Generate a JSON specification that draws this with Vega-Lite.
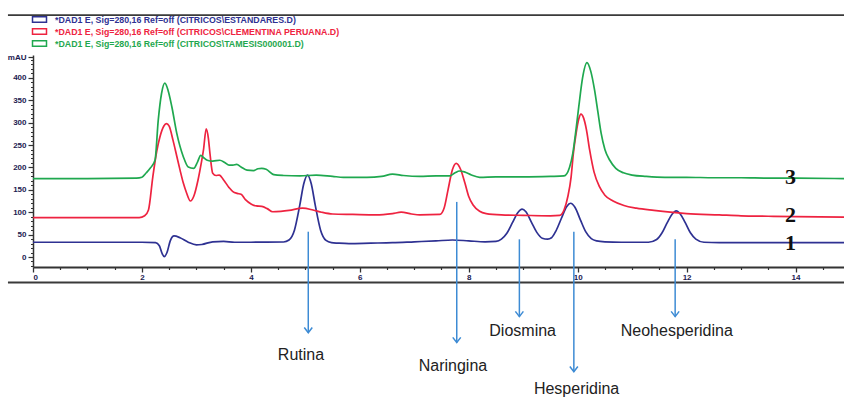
{
  "$schema": "https://vega.github.io/schema/vega-lite/v6.json",
  "width": 811,
  "height": 212,
  "autosize": "none",
  "padding": {"left": 33, "top": 55, "right": 0, "bottom": 131},
  "background": "white",
  "config": {"view": {"stroke": null}, "font": "Liberation Sans"},
  "datasets": {
    "chrom": [
      {"t":0,"v":33,"s":"1"},{"t":1,"v":33,"s":"1"},{"t":2,"v":33,"s":"1"},{"t":2.25,"v":32,"s":"1"},{"t":2.32,"v":25,"s":"1"},{"t":2.37,"v":8,"s":"1"},{"t":2.41,"v":1,"s":"1"},{"t":2.46,"v":10,"s":"1"},{"t":2.52,"v":36,"s":"1"},{"t":2.59,"v":47,"s":"1"},{"t":2.7,"v":43,"s":"1"},{"t":2.85,"v":33,"s":"1"},{"t":3.0,"v":27,"s":"1"},{"t":3.1,"v":28,"s":"1"},{"t":3.3,"v":34,"s":"1"},{"t":3.5,"v":35,"s":"1"},{"t":3.7,"v":33,"s":"1"},{"t":4.0,"v":33,"s":"1"},{"t":4.6,"v":33.5,"s":"1"},{"t":4.7,"v":38,"s":"1"},{"t":4.8,"v":60,"s":"1"},{"t":4.9,"v":117,"s":"1"},{"t":4.97,"v":163,"s":"1"},{"t":5.04,"v":183,"s":"1"},{"t":5.11,"v":163,"s":"1"},{"t":5.18,"v":117,"s":"1"},{"t":5.28,"v":60,"s":"1"},{"t":5.38,"v":37,"s":"1"},{"t":5.48,"v":32,"s":"1"},{"t":5.6,"v":31,"s":"1"},{"t":5.8,"v":30,"s":"1"},{"t":6.2,"v":31,"s":"1"},{"t":6.6,"v":32,"s":"1"},{"t":7.0,"v":34,"s":"1"},{"t":7.4,"v":36,"s":"1"},{"t":7.7,"v":38,"s":"1"},{"t":8.0,"v":36,"s":"1"},{"t":8.3,"v":34,"s":"1"},{"t":8.5,"v":35,"s":"1"},{"t":8.6,"v":40,"s":"1"},{"t":8.7,"v":53,"s":"1"},{"t":8.8,"v":76,"s":"1"},{"t":8.9,"v":99,"s":"1"},{"t":8.98,"v":107,"s":"1"},{"t":9.05,"v":101,"s":"1"},{"t":9.15,"v":78,"s":"1"},{"t":9.25,"v":55,"s":"1"},{"t":9.35,"v":42,"s":"1"},{"t":9.45,"v":40,"s":"1"},{"t":9.52,"v":43,"s":"1"},{"t":9.6,"v":58,"s":"1"},{"t":9.7,"v":86,"s":"1"},{"t":9.8,"v":113,"s":"1"},{"t":9.87,"v":120,"s":"1"},{"t":9.95,"v":111,"s":"1"},{"t":10.05,"v":83,"s":"1"},{"t":10.15,"v":56,"s":"1"},{"t":10.25,"v":41,"s":"1"},{"t":10.35,"v":36,"s":"1"},{"t":10.5,"v":34,"s":"1"},{"t":10.8,"v":33,"s":"1"},{"t":11.3,"v":33,"s":"1"},{"t":11.45,"v":39,"s":"1"},{"t":11.55,"v":54,"s":"1"},{"t":11.65,"v":78,"s":"1"},{"t":11.73,"v":95,"s":"1"},{"t":11.81,"v":103,"s":"1"},{"t":11.89,"v":95,"s":"1"},{"t":11.97,"v":78,"s":"1"},{"t":12.07,"v":54,"s":"1"},{"t":12.17,"v":40,"s":"1"},{"t":12.32,"v":33,"s":"1"},{"t":12.6,"v":32,"s":"1"},{"t":13.5,"v":32,"s":"1"},{"t":14.89,"v":32,"s":"1"},
      {"t":0,"v":88,"s":"2"},{"t":1,"v":88,"s":"2"},{"t":1.95,"v":88,"s":"2"},{"t":2.05,"v":92,"s":"2"},{"t":2.12,"v":105,"s":"2"},{"t":2.2,"v":179,"s":"2"},{"t":2.27,"v":235,"s":"2"},{"t":2.33,"v":268,"s":"2"},{"t":2.4,"v":292,"s":"2"},{"t":2.45,"v":298,"s":"2"},{"t":2.5,"v":292,"s":"2"},{"t":2.57,"v":261,"s":"2"},{"t":2.64,"v":225,"s":"2"},{"t":2.7,"v":194,"s":"2"},{"t":2.76,"v":165,"s":"2"},{"t":2.82,"v":143,"s":"2"},{"t":2.89,"v":125,"s":"2"},{"t":2.95,"v":135,"s":"2"},{"t":3.03,"v":172,"s":"2"},{"t":3.09,"v":210,"s":"2"},{"t":3.13,"v":239,"s":"2"},{"t":3.18,"v":286,"s":"2"},{"t":3.22,"v":265,"s":"2"},{"t":3.25,"v":230,"s":"2"},{"t":3.3,"v":187,"s":"2"},{"t":3.36,"v":182,"s":"2"},{"t":3.42,"v":183,"s":"2"},{"t":3.5,"v":172,"s":"2"},{"t":3.6,"v":155,"s":"2"},{"t":3.67,"v":146,"s":"2"},{"t":3.75,"v":142,"s":"2"},{"t":3.82,"v":140,"s":"2"},{"t":3.9,"v":128,"s":"2"},{"t":4.01,"v":118,"s":"2"},{"t":4.1,"v":114,"s":"2"},{"t":4.2,"v":113,"s":"2"},{"t":4.3,"v":108,"s":"2"},{"t":4.4,"v":101,"s":"2"},{"t":4.55,"v":102,"s":"2"},{"t":4.7,"v":104,"s":"2"},{"t":4.95,"v":109,"s":"2"},{"t":5.14,"v":105,"s":"2"},{"t":5.3,"v":100,"s":"2"},{"t":5.5,"v":96,"s":"2"},{"t":5.87,"v":95,"s":"2"},{"t":6.3,"v":94,"s":"2"},{"t":6.6,"v":97,"s":"2"},{"t":6.76,"v":100,"s":"2"},{"t":6.95,"v":96,"s":"2"},{"t":7.1,"v":94,"s":"2"},{"t":7.47,"v":95,"s":"2"},{"t":7.55,"v":110,"s":"2"},{"t":7.62,"v":150,"s":"2"},{"t":7.7,"v":195,"s":"2"},{"t":7.77,"v":209,"s":"2"},{"t":7.85,"v":196,"s":"2"},{"t":7.93,"v":165,"s":"2"},{"t":8.0,"v":135,"s":"2"},{"t":8.08,"v":116,"s":"2"},{"t":8.2,"v":102,"s":"2"},{"t":8.32,"v":97,"s":"2"},{"t":8.6,"v":94,"s":"2"},{"t":9.0,"v":93,"s":"2"},{"t":9.5,"v":92,"s":"2"},{"t":9.67,"v":93,"s":"2"},{"t":9.75,"v":105,"s":"2"},{"t":9.82,"v":135,"s":"2"},{"t":9.88,"v":179,"s":"2"},{"t":9.92,"v":230,"s":"2"},{"t":9.97,"v":275,"s":"2"},{"t":10.02,"v":308,"s":"2"},{"t":10.06,"v":319,"s":"2"},{"t":10.11,"v":310,"s":"2"},{"t":10.16,"v":285,"s":"2"},{"t":10.22,"v":239,"s":"2"},{"t":10.3,"v":190,"s":"2"},{"t":10.4,"v":157,"s":"2"},{"t":10.5,"v":138,"s":"2"},{"t":10.65,"v":125,"s":"2"},{"t":10.85,"v":115,"s":"2"},{"t":11.08,"v":109,"s":"2"},{"t":11.4,"v":104,"s":"2"},{"t":11.7,"v":100,"s":"2"},{"t":12.0,"v":97,"s":"2"},{"t":12.6,"v":94,"s":"2"},{"t":13.0,"v":92,"s":"2"},{"t":13.5,"v":91,"s":"2"},{"t":14.0,"v":90,"s":"2"},{"t":14.89,"v":89,"s":"2"},
      {"t":0,"v":175,"s":"3"},{"t":1,"v":175,"s":"3"},{"t":1.9,"v":176,"s":"3"},{"t":2.0,"v":178,"s":"3"},{"t":2.08,"v":188,"s":"3"},{"t":2.15,"v":198,"s":"3"},{"t":2.24,"v":216,"s":"3"},{"t":2.3,"v":306,"s":"3"},{"t":2.36,"v":365,"s":"3"},{"t":2.42,"v":388,"s":"3"},{"t":2.48,"v":372,"s":"3"},{"t":2.55,"v":335,"s":"3"},{"t":2.64,"v":276,"s":"3"},{"t":2.76,"v":224,"s":"3"},{"t":2.85,"v":201,"s":"3"},{"t":2.95,"v":198,"s":"3"},{"t":3.02,"v":212,"s":"3"},{"t":3.08,"v":227,"s":"3"},{"t":3.14,"v":221,"s":"3"},{"t":3.2,"v":216,"s":"3"},{"t":3.3,"v":214,"s":"3"},{"t":3.43,"v":216,"s":"3"},{"t":3.52,"v":211,"s":"3"},{"t":3.6,"v":205,"s":"3"},{"t":3.67,"v":205,"s":"3"},{"t":3.74,"v":207,"s":"3"},{"t":3.82,"v":201,"s":"3"},{"t":3.93,"v":194,"s":"3"},{"t":4.05,"v":193,"s":"3"},{"t":4.13,"v":197,"s":"3"},{"t":4.2,"v":198,"s":"3"},{"t":4.28,"v":196,"s":"3"},{"t":4.42,"v":184,"s":"3"},{"t":4.6,"v":182,"s":"3"},{"t":4.9,"v":181,"s":"3"},{"t":5.2,"v":183,"s":"3"},{"t":5.5,"v":180,"s":"3"},{"t":5.7,"v":178,"s":"3"},{"t":6.13,"v":178,"s":"3"},{"t":6.4,"v":180,"s":"3"},{"t":6.6,"v":185,"s":"3"},{"t":6.8,"v":182,"s":"3"},{"t":7.1,"v":180,"s":"3"},{"t":7.4,"v":181,"s":"3"},{"t":7.65,"v":181,"s":"3"},{"t":7.75,"v":188,"s":"3"},{"t":7.83,"v":192,"s":"3"},{"t":7.92,"v":190,"s":"3"},{"t":8.05,"v":183,"s":"3"},{"t":8.2,"v":178,"s":"3"},{"t":8.5,"v":179,"s":"3"},{"t":9.0,"v":179,"s":"3"},{"t":9.5,"v":180,"s":"3"},{"t":9.75,"v":181,"s":"3"},{"t":9.85,"v":200,"s":"3"},{"t":9.91,"v":231,"s":"3"},{"t":9.97,"v":285,"s":"3"},{"t":10.02,"v":335,"s":"3"},{"t":10.09,"v":400,"s":"3"},{"t":10.17,"v":434,"s":"3"},{"t":10.24,"v":415,"s":"3"},{"t":10.31,"v":373,"s":"3"},{"t":10.37,"v":325,"s":"3"},{"t":10.43,"v":277,"s":"3"},{"t":10.5,"v":240,"s":"3"},{"t":10.59,"v":216,"s":"3"},{"t":10.7,"v":198,"s":"3"},{"t":10.84,"v":188,"s":"3"},{"t":11.0,"v":183,"s":"3"},{"t":11.26,"v":180,"s":"3"},{"t":11.6,"v":178,"s":"3"},{"t":12.0,"v":178,"s":"3"},{"t":12.5,"v":177,"s":"3"},{"t":13.0,"v":177,"s":"3"},{"t":13.5,"v":176,"s":"3"},{"t":14.0,"v":176,"s":"3"},{"t":14.89,"v":175,"s":"3"}
    ],
    "arrows": [
      {"name":"Rutina","t":5.054,"top":56.5,"bottom":-169,"lt":4.92,"lv":-219},
      {"name":"Naringina","t":7.78,"top":123,"bottom":-191,"lt":7.71,"lv":-243},
      {"name":"Diosmina","t":8.93,"top":39.5,"bottom":-133,"lt":8.99,"lv":-165},
      {"name":"Hesperidina","t":9.93,"top":56.5,"bottom":-256,"lt":9.98,"lv":-294},
      {"name":"Neohesperidina","t":11.79,"top":39.5,"bottom":-133,"lt":11.82,"lv":-165}
    ],
    "nums": [
      {"n":"1","t":13.91,"v":32},
      {"n":"2","t":13.91,"v":94},
      {"n":"3","t":13.91,"v":179}
    ],
    "frame": [
      {"y":540.2,"w":2},
      {"y":-56.9,"w":1.5}
    ]
  },
  "resolve": {"axis": {"x": "independent", "y": "independent"}},
  "layer": [
    {
      "data": {"name": "frame"},
      "mark": {"type": "rule", "color": "#3a3a3a", "strokeWidth": 1.8},
      "encoding": {
        "y": {"field": "y", "type": "quantitative", "axis": null, "scale": {"domain": [-22.3, 451], "nice": false, "zero": false}},
        "x": {"datum": -0.46, "type": "quantitative", "axis": null, "scale": {"domain": [0, 14.89], "nice": false, "zero": false}},
        "x2": {"datum": 14.89}
      }
    },
    {
      "data": {"name": "chrom"},
      "mark": {"type": "point", "opacity": 0},
      "encoding": {
        "x": {"field": "t", "type": "quantitative",
          "axis": {"orient": "bottom", "values": [0.5,1,1.5,2.5,3,3.5,4.5,5,5.5,6.5,7,7.5,8.5,9,9.5,10.5,11,11.5,12.5,13,13.5,14.5], "labels": false, "domain": false, "grid": false, "tickSize": 2.5, "tickColor": "#333", "tickWidth": 1.2, "title": null}},
        "y": {"field": "v", "type": "quantitative",
          "axis": {"orient": "left", "values": [-20,-10,10,20,30,40,60,70,80,90,110,120,130,140,160,170,180,190,210,220,230,240,260,270,280,290,310,320,330,340,360,370,380,390,410,420,430,440], "labels": false, "domain": false, "grid": false, "tickSize": 2.5, "tickColor": "#333", "tickWidth": 1, "title": null}}
      }
    },
    {
      "data": {"name": "chrom"},
      "mark": {"type": "line", "strokeWidth": 1.7, "interpolate": "monotone"},
      "encoding": {
        "x": {"field": "t", "type": "quantitative",
          "axis": {"orient": "bottom", "values": [0,2,4,6,8,10,12,14], "grid": false, "title": null, "domainColor": "#333", "domainWidth": 1.8, "tickColor": "#333", "tickWidth": 1.3, "tickSize": 5, "labelFont": "Liberation Sans", "labelFontSize": 8, "labelFontWeight": "bold", "labelColor": "#1c2050", "labelPadding": 1}},
        "y": {"field": "v", "type": "quantitative",
          "axis": {"orient": "left", "values": [0,50,100,150,200,250,300,350,400,446], "labelExpr": "datum.value > 420 ? 'mAU' : datum.label", "grid": false, "title": null, "domainColor": "#333", "domainWidth": 1.5, "tickColor": "#333", "tickWidth": 1.2, "tickSize": 5, "labelFont": "Liberation Sans", "labelFontSize": 8, "labelFontWeight": "bold", "labelColor": "#1c2050", "labelPadding": 2}},
        "color": {"field": "s", "type": "nominal",
          "scale": {"domain": ["1","2","3"], "range": ["#2e3192", "#ee2340", "#1fa84f"]},
          "legend": {
            "orient": "none", "legendX": 2, "legendY": -40, "title": null, "padding": 0,
            "symbolType": "M-2,-0.8H2V0.8H-2Z", "symbolSize": 49, "symbolStrokeWidth": 1.5, "symbolFillColor": "white",
            "labelFont": "Liberation Sans", "labelFontSize": 8.8, "labelFontWeight": "bold", "labelOffset": 11, "rowPadding": -1, "labelLimit": 0,
            "labelExpr": "['*DAD1 E, Sig=280,16 Ref=off (CITRICOS\\\\ESTANDARES.D)', '*DAD1 E, Sig=280,16 Ref=off (CITRICOS\\\\CLEMENTINA PERUANA.D)', '*DAD1 E, Sig=280,16 Ref=off (CITRICOS\\\\TAMESIS000001.D)'][toNumber(datum.value) - 1]",
            "encode": {"labels": {"update": {"fill": {"signal": "scale('color', datum.value)"}}}, "symbols": {"update": {"fill": {"value": "white"}, "stroke": {"signal": "scale('color', datum.value)"}}}}
          }}
      }
    },
    {
      "data": {"name": "arrows"},
      "mark": {"type": "rule", "color": "#3d8bd4", "strokeWidth": 1.5},
      "encoding": {
        "x": {"field": "t", "type": "quantitative", "axis": null},
        "y": {"field": "top", "type": "quantitative", "axis": null},
        "y2": {"field": "bottom"}
      }
    },
    {
      "data": {"name": "arrows"},
      "mark": {"type": "point", "shape": "M-1,-1.3L0,0L1,-1.3", "filled": false, "color": "#3d8bd4", "strokeWidth": 1.5, "size": 64, "opacity": 1},
      "encoding": {
        "x": {"field": "t", "type": "quantitative", "axis": null},
        "y": {"field": "bottom", "type": "quantitative", "axis": null}
      }
    },
    {
      "data": {"name": "arrows"},
      "mark": {"type": "text", "font": "Liberation Sans", "fontSize": 16, "color": "#222", "align": "center", "baseline": "middle"},
      "encoding": {
        "x": {"field": "lt", "type": "quantitative", "axis": null},
        "y": {"field": "lv", "type": "quantitative", "axis": null},
        "text": {"field": "name"}
      }
    },
    {
      "data": {"name": "nums"},
      "mark": {"type": "text", "font": "Liberation Serif", "fontSize": 22, "fontWeight": "bold", "color": "#111", "align": "center", "baseline": "middle"},
      "encoding": {
        "x": {"field": "t", "type": "quantitative", "axis": null},
        "y": {"field": "v", "type": "quantitative", "axis": null},
        "text": {"field": "n"}
      }
    }
  ]
}
